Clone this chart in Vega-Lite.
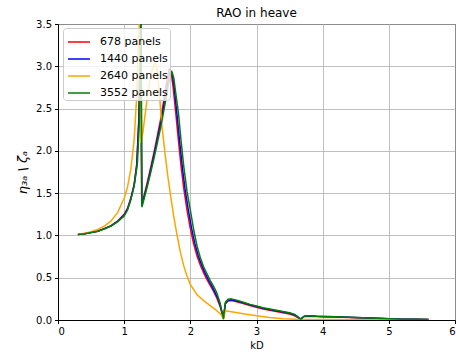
{
  "$schema": "https://vega.github.io/schema/vega-lite/v6.json",
  "width": 397,
  "height": 296,
  "autosize": {"type": "none"},
  "padding": {"left": 58, "top": 24, "right": 1, "bottom": 38},
  "title": {"text": "RAO in heave", "font": "DejaVu Sans", "fontSize": 12, "fontWeight": "normal", "color": "black", "offset": 5, "dy": 6},
  "config": {
    "view": {"stroke": "black", "strokeWidth": 1},
    "axis": {
      "labelFont": "DejaVu Sans", "labelFontSize": 10, "labelColor": "black",
      "titleFont": "DejaVu Sans", "titleFontSize": 10, "titleFontWeight": "normal", "titleColor": "black",
      "grid": true, "gridColor": "#b0b0b0", "gridWidth": 0.8,
      "domainColor": "black", "tickColor": "black", "tickSize": 3.5, "labelPadding": 3
    },
    "legend": {
      "orient": "none", "legendX": 5, "legendY": 4, "padding": 2,
      "strokeColor": "#cccccc", "fillColor": "rgba(255,255,255,0.8)", "cornerRadius": 3,
      "symbolType": "stroke", "symbolSize": 484, "symbolStrokeWidth": 1.5, "symbolOffset": 2,
      "labelFont": "DejaVu Sans", "labelFontSize": 11, "labelColor": "black",
      "rowPadding": -0.7, "labelOffset": 9
    }
  },
  "encoding": {
    "x": {"field": "kD", "type": "quantitative", "scale": {"domain": [0, 6], "nice": false}, "axis": {"values": [0, 1, 2, 3, 4, 5, 6], "format": "d", "title": "kD", "titlePadding": 4}},
    "y": {"field": "rao", "type": "quantitative", "scale": {"domain": [0, 3.5], "nice": false, "clamp": true}, "axis": {"values": [0, 0.5, 1, 1.5, 2, 2.5, 3, 3.5], "format": ".1f", "title": "η₃ₐ \\ ζₐ", "titleFontSize": 13, "titleFontStyle": "italic", "titlePadding": 6}},
    "color": {"field": "series", "type": "nominal", "scale": {"domain": ["678 panels", "1440 panels", "2640 panels", "3552 panels"], "range": ["red", "blue", "orange", "green"]}, "legend": {"title": null}}
  },
  "layer": [
    {
      "mark": {"type": "line", "clip": true, "strokeWidth": 1.5, "strokeJoin": "round"},
      "data": {"values": [
        {"series": "678 panels", "kD": 0.3, "rao": 1.01},
        {"series": "678 panels", "kD": 0.4, "rao": 1.02},
        {"series": "678 panels", "kD": 0.5, "rao": 1.035},
        {"series": "678 panels", "kD": 0.6, "rao": 1.05},
        {"series": "678 panels", "kD": 0.7, "rao": 1.08},
        {"series": "678 panels", "kD": 0.8, "rao": 1.115},
        {"series": "678 panels", "kD": 0.9, "rao": 1.17},
        {"series": "678 panels", "kD": 1.0, "rao": 1.25},
        {"series": "678 panels", "kD": 1.05, "rao": 1.32},
        {"series": "678 panels", "kD": 1.1, "rao": 1.44},
        {"series": "678 panels", "kD": 1.15, "rao": 1.6},
        {"series": "678 panels", "kD": 1.19, "rao": 1.85},
        {"series": "678 panels", "kD": 1.22, "rao": 2.35},
        {"series": "678 panels", "kD": 1.245, "rao": 4.5},
        {"series": "678 panels", "kD": 1.265, "rao": 1.36},
        {"series": "678 panels", "kD": 1.3, "rao": 1.47},
        {"series": "678 panels", "kD": 1.35, "rao": 1.63},
        {"series": "678 panels", "kD": 1.4, "rao": 1.8},
        {"series": "678 panels", "kD": 1.45, "rao": 1.98},
        {"series": "678 panels", "kD": 1.5, "rao": 2.17},
        {"series": "678 panels", "kD": 1.55, "rao": 2.37},
        {"series": "678 panels", "kD": 1.6, "rao": 2.6},
        {"series": "678 panels", "kD": 1.64, "rao": 2.8},
        {"series": "678 panels", "kD": 1.68, "rao": 2.97},
        {"series": "678 panels", "kD": 1.71, "rao": 2.93},
        {"series": "678 panels", "kD": 1.74, "rao": 2.75},
        {"series": "678 panels", "kD": 1.78, "rao": 2.45},
        {"series": "678 panels", "kD": 1.82, "rao": 2.12},
        {"series": "678 panels", "kD": 1.86, "rao": 1.82},
        {"series": "678 panels", "kD": 1.9, "rao": 1.56},
        {"series": "678 panels", "kD": 1.95, "rao": 1.3},
        {"series": "678 panels", "kD": 2.0, "rao": 1.08},
        {"series": "678 panels", "kD": 2.05, "rao": 0.9},
        {"series": "678 panels", "kD": 2.1, "rao": 0.76},
        {"series": "678 panels", "kD": 2.15, "rao": 0.65},
        {"series": "678 panels", "kD": 2.2, "rao": 0.56},
        {"series": "678 panels", "kD": 2.25, "rao": 0.48},
        {"series": "678 panels", "kD": 2.3, "rao": 0.41},
        {"series": "678 panels", "kD": 2.35, "rao": 0.34},
        {"series": "678 panels", "kD": 2.4, "rao": 0.26},
        {"series": "678 panels", "kD": 2.45, "rao": 0.16},
        {"series": "678 panels", "kD": 2.5, "rao": 0.02},
        {"series": "678 panels", "kD": 2.53, "rao": 0.19},
        {"series": "678 panels", "kD": 2.57, "rao": 0.225},
        {"series": "678 panels", "kD": 2.62, "rao": 0.23},
        {"series": "678 panels", "kD": 2.7, "rao": 0.215},
        {"series": "678 panels", "kD": 2.8, "rao": 0.195},
        {"series": "678 panels", "kD": 2.9, "rao": 0.17},
        {"series": "678 panels", "kD": 3.0, "rao": 0.15},
        {"series": "678 panels", "kD": 3.1, "rao": 0.13},
        {"series": "678 panels", "kD": 3.2, "rao": 0.115},
        {"series": "678 panels", "kD": 3.3, "rao": 0.1},
        {"series": "678 panels", "kD": 3.4, "rao": 0.085},
        {"series": "678 panels", "kD": 3.5, "rao": 0.07},
        {"series": "678 panels", "kD": 3.58, "rao": 0.05},
        {"series": "678 panels", "kD": 3.66, "rao": 0.01},
        {"series": "678 panels", "kD": 3.72, "rao": 0.04},
        {"series": "678 panels", "kD": 3.78, "rao": 0.045},
        {"series": "678 panels", "kD": 3.9, "rao": 0.04},
        {"series": "678 panels", "kD": 4.0, "rao": 0.038},
        {"series": "678 panels", "kD": 4.2, "rao": 0.034},
        {"series": "678 panels", "kD": 4.5, "rao": 0.027},
        {"series": "678 panels", "kD": 4.8, "rao": 0.02},
        {"series": "678 panels", "kD": 5.0, "rao": 0.014},
        {"series": "678 panels", "kD": 5.2, "rao": 0.01},
        {"series": "678 panels", "kD": 5.4, "rao": 0.008},
        {"series": "678 panels", "kD": 5.6, "rao": 0.005}
      ]}
    },
    {
      "mark": {"type": "line", "clip": true, "strokeWidth": 1.5, "strokeJoin": "round"},
      "data": {"values": [
        {"series": "1440 panels", "kD": 0.3, "rao": 1.01},
        {"series": "1440 panels", "kD": 0.4, "rao": 1.02},
        {"series": "1440 panels", "kD": 0.5, "rao": 1.035},
        {"series": "1440 panels", "kD": 0.6, "rao": 1.05},
        {"series": "1440 panels", "kD": 0.7, "rao": 1.08},
        {"series": "1440 panels", "kD": 0.8, "rao": 1.11},
        {"series": "1440 panels", "kD": 0.9, "rao": 1.165},
        {"series": "1440 panels", "kD": 1.0, "rao": 1.24},
        {"series": "1440 panels", "kD": 1.05, "rao": 1.31},
        {"series": "1440 panels", "kD": 1.1, "rao": 1.43},
        {"series": "1440 panels", "kD": 1.15, "rao": 1.59},
        {"series": "1440 panels", "kD": 1.19, "rao": 1.82},
        {"series": "1440 panels", "kD": 1.225, "rao": 2.4},
        {"series": "1440 panels", "kD": 1.25, "rao": 4.5},
        {"series": "1440 panels", "kD": 1.268, "rao": 1.35},
        {"series": "1440 panels", "kD": 1.3, "rao": 1.45},
        {"series": "1440 panels", "kD": 1.35, "rao": 1.6},
        {"series": "1440 panels", "kD": 1.4, "rao": 1.77},
        {"series": "1440 panels", "kD": 1.45, "rao": 1.95},
        {"series": "1440 panels", "kD": 1.5, "rao": 2.13},
        {"series": "1440 panels", "kD": 1.55, "rao": 2.32},
        {"series": "1440 panels", "kD": 1.6, "rao": 2.54},
        {"series": "1440 panels", "kD": 1.65, "rao": 2.76},
        {"series": "1440 panels", "kD": 1.7, "rao": 2.95},
        {"series": "1440 panels", "kD": 1.73, "rao": 2.9},
        {"series": "1440 panels", "kD": 1.76, "rao": 2.72},
        {"series": "1440 panels", "kD": 1.8, "rao": 2.42},
        {"series": "1440 panels", "kD": 1.84, "rao": 2.1},
        {"series": "1440 panels", "kD": 1.88, "rao": 1.8},
        {"series": "1440 panels", "kD": 1.92, "rao": 1.55},
        {"series": "1440 panels", "kD": 1.97, "rao": 1.3},
        {"series": "1440 panels", "kD": 2.02, "rao": 1.08},
        {"series": "1440 panels", "kD": 2.07, "rao": 0.9},
        {"series": "1440 panels", "kD": 2.12, "rao": 0.76},
        {"series": "1440 panels", "kD": 2.17, "rao": 0.65},
        {"series": "1440 panels", "kD": 2.22, "rao": 0.56},
        {"series": "1440 panels", "kD": 2.27, "rao": 0.48},
        {"series": "1440 panels", "kD": 2.32, "rao": 0.41},
        {"series": "1440 panels", "kD": 2.37, "rao": 0.33},
        {"series": "1440 panels", "kD": 2.42, "rao": 0.25},
        {"series": "1440 panels", "kD": 2.46, "rao": 0.15},
        {"series": "1440 panels", "kD": 2.5, "rao": 0.02},
        {"series": "1440 panels", "kD": 2.53, "rao": 0.2},
        {"series": "1440 panels", "kD": 2.57, "rao": 0.235},
        {"series": "1440 panels", "kD": 2.62, "rao": 0.24},
        {"series": "1440 panels", "kD": 2.7, "rao": 0.225},
        {"series": "1440 panels", "kD": 2.8, "rao": 0.205},
        {"series": "1440 panels", "kD": 2.9, "rao": 0.18},
        {"series": "1440 panels", "kD": 3.0, "rao": 0.16},
        {"series": "1440 panels", "kD": 3.1, "rao": 0.14},
        {"series": "1440 panels", "kD": 3.2, "rao": 0.125},
        {"series": "1440 panels", "kD": 3.3, "rao": 0.11},
        {"series": "1440 panels", "kD": 3.4, "rao": 0.095},
        {"series": "1440 panels", "kD": 3.5, "rao": 0.08},
        {"series": "1440 panels", "kD": 3.58, "rao": 0.06},
        {"series": "1440 panels", "kD": 3.67, "rao": 0.01},
        {"series": "1440 panels", "kD": 3.72, "rao": 0.045},
        {"series": "1440 panels", "kD": 3.78, "rao": 0.05},
        {"series": "1440 panels", "kD": 3.9, "rao": 0.044},
        {"series": "1440 panels", "kD": 4.0, "rao": 0.041},
        {"series": "1440 panels", "kD": 4.2, "rao": 0.037},
        {"series": "1440 panels", "kD": 4.5, "rao": 0.029},
        {"series": "1440 panels", "kD": 4.8, "rao": 0.021},
        {"series": "1440 panels", "kD": 5.0, "rao": 0.015},
        {"series": "1440 panels", "kD": 5.2, "rao": 0.01},
        {"series": "1440 panels", "kD": 5.4, "rao": 0.008},
        {"series": "1440 panels", "kD": 5.6, "rao": 0.005}
      ]}
    },
    {
      "mark": {"type": "line", "clip": true, "strokeWidth": 1.5, "strokeJoin": "round"},
      "data": {"values": [
        {"series": "2640 panels", "kD": 0.3, "rao": 1.01},
        {"series": "2640 panels", "kD": 0.4, "rao": 1.025},
        {"series": "2640 panels", "kD": 0.5, "rao": 1.045},
        {"series": "2640 panels", "kD": 0.6, "rao": 1.07},
        {"series": "2640 panels", "kD": 0.7, "rao": 1.11},
        {"series": "2640 panels", "kD": 0.8, "rao": 1.17},
        {"series": "2640 panels", "kD": 0.9, "rao": 1.27},
        {"series": "2640 panels", "kD": 1.0, "rao": 1.44},
        {"series": "2640 panels", "kD": 1.05, "rao": 1.57},
        {"series": "2640 panels", "kD": 1.1, "rao": 1.78},
        {"series": "2640 panels", "kD": 1.15, "rao": 2.12},
        {"series": "2640 panels", "kD": 1.19, "rao": 2.65},
        {"series": "2640 panels", "kD": 1.215, "rao": 3.3},
        {"series": "2640 panels", "kD": 1.23, "rao": 4.5},
        {"series": "2640 panels", "kD": 1.25, "rao": 2.1},
        {"series": "2640 panels", "kD": 1.28, "rao": 2.2},
        {"series": "2640 panels", "kD": 1.32, "rao": 2.45},
        {"series": "2640 panels", "kD": 1.37, "rao": 2.75},
        {"series": "2640 panels", "kD": 1.42, "rao": 2.96},
        {"series": "2640 panels", "kD": 1.47, "rao": 3.04},
        {"series": "2640 panels", "kD": 1.5, "rao": 2.95},
        {"series": "2640 panels", "kD": 1.53, "rao": 2.7},
        {"series": "2640 panels", "kD": 1.57, "rao": 2.3},
        {"series": "2640 panels", "kD": 1.62, "rao": 1.95},
        {"series": "2640 panels", "kD": 1.66, "rao": 1.7},
        {"series": "2640 panels", "kD": 1.7, "rao": 1.48},
        {"series": "2640 panels", "kD": 1.75, "rao": 1.22},
        {"series": "2640 panels", "kD": 1.8, "rao": 1.0},
        {"series": "2640 panels", "kD": 1.85, "rao": 0.8},
        {"series": "2640 panels", "kD": 1.9, "rao": 0.64},
        {"series": "2640 panels", "kD": 1.95, "rao": 0.52},
        {"series": "2640 panels", "kD": 2.0, "rao": 0.42},
        {"series": "2640 panels", "kD": 2.1, "rao": 0.3},
        {"series": "2640 panels", "kD": 2.2, "rao": 0.23},
        {"series": "2640 panels", "kD": 2.3, "rao": 0.17},
        {"series": "2640 panels", "kD": 2.4, "rao": 0.11},
        {"series": "2640 panels", "kD": 2.47, "rao": 0.06},
        {"series": "2640 panels", "kD": 2.5, "rao": 0.01},
        {"series": "2640 panels", "kD": 2.53, "rao": 0.11},
        {"series": "2640 panels", "kD": 2.6, "rao": 0.1},
        {"series": "2640 panels", "kD": 2.8, "rao": 0.075},
        {"series": "2640 panels", "kD": 3.0, "rao": 0.05},
        {"series": "2640 panels", "kD": 3.2, "rao": 0.03},
        {"series": "2640 panels", "kD": 3.4, "rao": 0.015},
        {"series": "2640 panels", "kD": 3.6, "rao": 0.008},
        {"series": "2640 panels", "kD": 4.0, "rao": 0.005},
        {"series": "2640 panels", "kD": 5.0, "rao": 0.004},
        {"series": "2640 panels", "kD": 5.6, "rao": 0.003}
      ]}
    },
    {
      "mark": {"type": "line", "clip": true, "strokeWidth": 1.5, "strokeJoin": "round"},
      "data": {"values": [
        {"series": "3552 panels", "kD": 0.3, "rao": 1.01},
        {"series": "3552 panels", "kD": 0.4, "rao": 1.02},
        {"series": "3552 panels", "kD": 0.5, "rao": 1.035},
        {"series": "3552 panels", "kD": 0.6, "rao": 1.05},
        {"series": "3552 panels", "kD": 0.7, "rao": 1.075},
        {"series": "3552 panels", "kD": 0.8, "rao": 1.11},
        {"series": "3552 panels", "kD": 0.9, "rao": 1.16},
        {"series": "3552 panels", "kD": 1.0, "rao": 1.23},
        {"series": "3552 panels", "kD": 1.05, "rao": 1.3},
        {"series": "3552 panels", "kD": 1.1, "rao": 1.42},
        {"series": "3552 panels", "kD": 1.15, "rao": 1.58},
        {"series": "3552 panels", "kD": 1.2, "rao": 1.85},
        {"series": "3552 panels", "kD": 1.23, "rao": 2.35},
        {"series": "3552 panels", "kD": 1.255, "rao": 4.5},
        {"series": "3552 panels", "kD": 1.27, "rao": 1.34},
        {"series": "3552 panels", "kD": 1.3, "rao": 1.43},
        {"series": "3552 panels", "kD": 1.35, "rao": 1.58},
        {"series": "3552 panels", "kD": 1.4, "rao": 1.74},
        {"series": "3552 panels", "kD": 1.45, "rao": 1.91},
        {"series": "3552 panels", "kD": 1.5, "rao": 2.09},
        {"series": "3552 panels", "kD": 1.55, "rao": 2.27},
        {"series": "3552 panels", "kD": 1.6, "rao": 2.48},
        {"series": "3552 panels", "kD": 1.65, "rao": 2.7},
        {"series": "3552 panels", "kD": 1.69, "rao": 2.88},
        {"series": "3552 panels", "kD": 1.72, "rao": 2.94},
        {"series": "3552 panels", "kD": 1.75, "rao": 2.86},
        {"series": "3552 panels", "kD": 1.78, "rao": 2.68},
        {"series": "3552 panels", "kD": 1.82, "rao": 2.45},
        {"series": "3552 panels", "kD": 1.86, "rao": 2.12},
        {"series": "3552 panels", "kD": 1.9, "rao": 1.82},
        {"series": "3552 panels", "kD": 1.95, "rao": 1.52},
        {"series": "3552 panels", "kD": 2.0, "rao": 1.3},
        {"series": "3552 panels", "kD": 2.05, "rao": 1.07},
        {"series": "3552 panels", "kD": 2.1, "rao": 0.88},
        {"series": "3552 panels", "kD": 2.15, "rao": 0.74},
        {"series": "3552 panels", "kD": 2.2, "rao": 0.63},
        {"series": "3552 panels", "kD": 2.25, "rao": 0.55},
        {"series": "3552 panels", "kD": 2.3, "rao": 0.47},
        {"series": "3552 panels", "kD": 2.35, "rao": 0.4},
        {"series": "3552 panels", "kD": 2.4, "rao": 0.32},
        {"series": "3552 panels", "kD": 2.45, "rao": 0.2},
        {"series": "3552 panels", "kD": 2.5, "rao": 0.02},
        {"series": "3552 panels", "kD": 2.53, "rao": 0.21},
        {"series": "3552 panels", "kD": 2.57, "rao": 0.245},
        {"series": "3552 panels", "kD": 2.62, "rao": 0.25},
        {"series": "3552 panels", "kD": 2.7, "rao": 0.235},
        {"series": "3552 panels", "kD": 2.8, "rao": 0.21},
        {"series": "3552 panels", "kD": 2.9, "rao": 0.185},
        {"series": "3552 panels", "kD": 3.0, "rao": 0.165},
        {"series": "3552 panels", "kD": 3.1, "rao": 0.145},
        {"series": "3552 panels", "kD": 3.2, "rao": 0.13},
        {"series": "3552 panels", "kD": 3.3, "rao": 0.115},
        {"series": "3552 panels", "kD": 3.4, "rao": 0.1},
        {"series": "3552 panels", "kD": 3.5, "rao": 0.085},
        {"series": "3552 panels", "kD": 3.58, "rao": 0.065},
        {"series": "3552 panels", "kD": 3.67, "rao": 0.01},
        {"series": "3552 panels", "kD": 3.72, "rao": 0.045},
        {"series": "3552 panels", "kD": 3.78, "rao": 0.05},
        {"series": "3552 panels", "kD": 3.9, "rao": 0.045},
        {"series": "3552 panels", "kD": 4.0, "rao": 0.042},
        {"series": "3552 panels", "kD": 4.2, "rao": 0.038},
        {"series": "3552 panels", "kD": 4.5, "rao": 0.03},
        {"series": "3552 panels", "kD": 4.8, "rao": 0.022},
        {"series": "3552 panels", "kD": 5.0, "rao": 0.015},
        {"series": "3552 panels", "kD": 5.2, "rao": 0.01},
        {"series": "3552 panels", "kD": 5.4, "rao": 0.008},
        {"series": "3552 panels", "kD": 5.6, "rao": 0.005}
      ]}
    }
  ]
}
